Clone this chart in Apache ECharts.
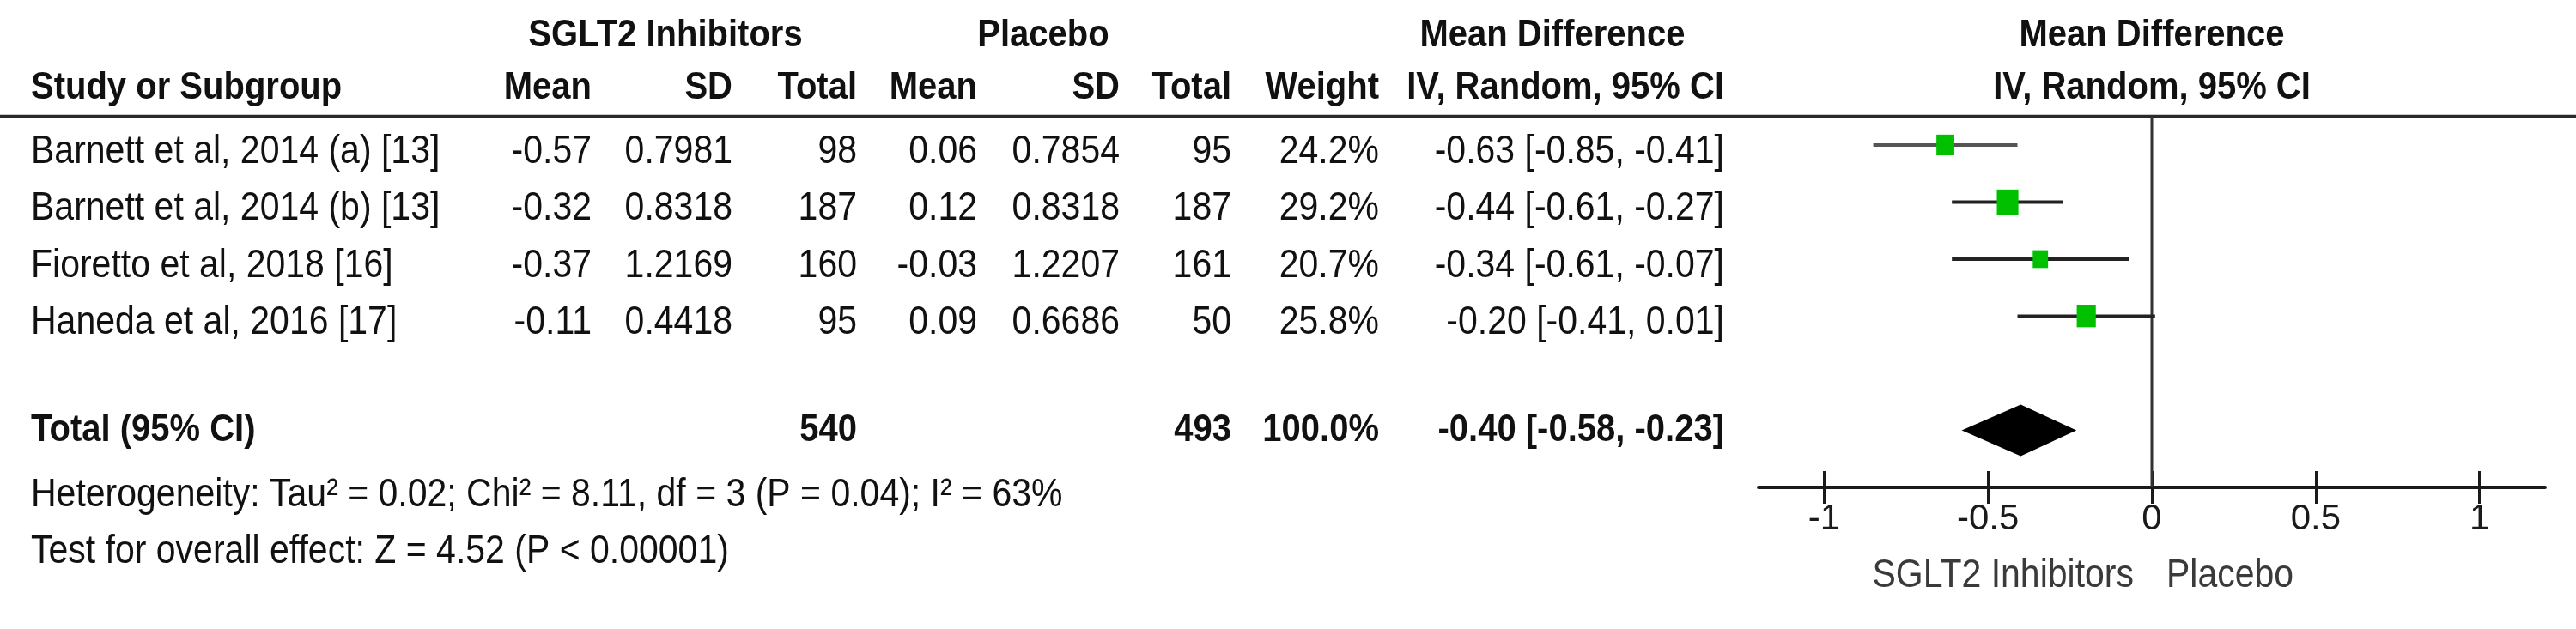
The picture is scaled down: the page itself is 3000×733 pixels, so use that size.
<!DOCTYPE html>
<html><head><meta charset="utf-8">
<script src="https://cdn.jsdelivr.net/npm/echarts@6/dist/echarts.min.js"></script>
<style>html,body{margin:0;padding:0;background:#fff}#c{width:3000px;height:733px}</style>
</head><body><div id="c"></div>
<script>
// ---------- data ----------
const studies = ['Barnett et al, 2014 (a) [13]', 'Barnett et al, 2014 (b) [13]', 'Fioretto et al, 2018 [16]', 'Haneda et al, 2016 [17]'];
const sgltMean = ['-0.57', '-0.32', '-0.37', '-0.11'];
const sgltSD = ['0.7981', '0.8318', '1.2169', '0.4418'];
const sgltTotal = [98, 187, 160, 95];
const placeboMean = ['0.06', '0.12', '-0.03', '0.09'];
const placeboSD = ['0.7854', '0.8318', '1.2207', '0.6686'];
const placeboTotal = [95, 187, 161, 50];
const weights = [24.2, 29.2, 20.7, 25.8];
const meanDiff = [-0.63, -0.44, -0.34, -0.20];
const ciLow = [-0.85, -0.61, -0.61, -0.41];
const ciHigh = [-0.41, -0.27, -0.07, 0.01];
const totalLabel = 'Total (95% CI)';
const totalSglt = 540;
const totalPlacebo = 493;
const totalWeight = '100.0%';
const totalMD = [-0.40, -0.58, -0.23];   // estimate, low, high
const xTicks = [-1, -0.5, 0, 0.5, 1];
const headerGroups = ['SGLT2 Inhibitors', 'Placebo', 'Mean Difference', 'Mean Difference'];
const headerCols = ['Study or Subgroup', 'Mean', 'SD', 'Total', 'Mean', 'SD', 'Total', 'Weight', 'IV, Random, 95% CI', 'IV, Random, 95% CI'];
const heterogeneity = 'Heterogeneity: Tau\u00b2 = 0.02; Chi\u00b2 = 8.11, df = 3 (P = 0.04); I\u00b2 = 63%';
const overallEffect = 'Test for overall effect: Z = 4.52 (P < 0.00001)';
const favours = ['SGLT2 Inhibitors', 'Placebo'];

// ---------- layout ----------
const FONT = '"Liberation Sans", Arial, sans-serif';
const SY = 1.12;
const GRID_H = 568;
const ROW = { h1: -1.92, h2: -1.0, studyText: 0.12, total: 5, totalText: 5.0, het: 6.14, test: 7.13, rule: -0.5, axisTitle: 7.56 };
const COL = {
  study: [36, 'left'], eMean: [689, 'right'], eSD: [853, 'right'], eTot: [998, 'right'],
  pMean: [1138, 'right'], pSD: [1304, 'right'], pTot: [1434, 'right'], wt: [1606, 'right'], md: [2008, 'right']
};
const colKeys = ['study', 'eMean', 'eSD', 'eTot', 'pMean', 'pSD', 'pTot', 'wt', 'md'];
const fmt = v => v.toFixed(2);
const ciText = (m, l, h) => fmt(m) + ' [' + fmt(l) + ', ' + fmt(h) + ']';

const items = [];
function add(text, row, col, bold, opts) {
  items.push(Object.assign({ text: String(text), row, col, bold }, opts || {}));
}
add(headerGroups[0], ROW.h1, null, true, { px: 775, align: 'center' });
add(headerGroups[1], ROW.h1, null, true, { px: 1215, align: 'center' });
add(headerGroups[2], ROW.h1, null, true, { px: 1808, align: 'center' });
add(headerGroups[3], ROW.h1, null, true, { fx: 0, align: 'center' });
colKeys.forEach((k, i) => add(headerCols[i], ROW.h2, k, true));
add(headerCols[9], ROW.h2, null, true, { fx: 0, align: 'center' });
studies.forEach((s, i) => {
  const r = i + ROW.studyText;
  const vals = [s, sgltMean[i], sgltSD[i], sgltTotal[i], placeboMean[i], placeboSD[i], placeboTotal[i],
    weights[i].toFixed(1) + '%', ciText(meanDiff[i], ciLow[i], ciHigh[i])];
  colKeys.forEach((k, j) => add(vals[j], r, k, false));
});
add(totalLabel, ROW.totalText, 'study', true);
add(totalSglt, ROW.totalText, 'eTot', true);
add(totalPlacebo, ROW.totalText, 'pTot', true);
add(totalWeight, ROW.totalText, 'wt', true);
add(ciText(totalMD[0], totalMD[1], totalMD[2]), ROW.totalText, 'md', true);
add(heterogeneity, ROW.het, 'study', false);
add(overallEffect, ROW.test, 'study', false);
add(favours[0], ROW.axisTitle, null, false, { fx: 0, dx: -21, align: 'right', color: '#3a3a3a' });
add(favours[1], ROW.axisTitle, null, false, { fx: 0, dx: 17, align: 'left', color: '#3a3a3a' });

function textEl(x, y, it) {
  return {
    type: 'text', x: x, y: y, scaleY: SY,
    style: {
      text: it.text, x: 0, y: 0, fill: it.color || '#111', fontFamily: FONT,
      fontSize: it.bold ? 40 : 41, fontWeight: it.bold ? 'bold' : 'normal',
      align: it.align, verticalAlign: 'middle'
    }
  };
}

const chart = echarts.init(document.getElementById('c'), null, { renderer: 'canvas' });
const axisCommon = { type: 'value', min: -1.2, max: 1.2, gridIndex: 0, splitLine: { show: false } };
chart.setOption({
  animation: false,
  backgroundColor: '#fff',
  grid: [{ left: 2048, top: 0, width: 916, height: GRID_H }],
  xAxis: [
    Object.assign({}, axisCommon, {
      position: 'bottom',
      axisLine: { show: true, onZero: false, lineStyle: { color: '#1a1a1a', width: 4 } },
      axisTick: { show: true, customValues: xTicks, length: 19, lineStyle: { color: '#1a1a1a', width: 3 } },
      axisLabel: { show: true, customValues: xTicks, margin: 16, fontSize: 42, color: '#1a1a1a', fontFamily: FONT }
    }),
    Object.assign({}, axisCommon, {
      // upper half of the crossing ticks: a top axis moved down onto the bottom line
      position: 'top', offset: -GRID_H,
      axisLine: { show: false, onZero: false },
      axisTick: { show: true, inside: false, customValues: xTicks, length: 19, lineStyle: { color: '#1a1a1a', width: 3 } },
      axisLabel: { show: false }
    })
  ],
  yAxis: [{ type: 'value', min: -2.54, max: 6, inverse: true, show: false, gridIndex: 0 }],
  series: [
    {
      type: 'custom', coordinateSystem: 'cartesian2d', clip: false, silent: true,
      data: [[0, ROW.rule]],
      renderItem: (p, api) => {
        const y = api.coord([0, api.value(1)])[1];
        return { type: 'line', shape: { x1: 0, y1: y, x2: api.getWidth(), y2: y }, style: { stroke: '#2a2a2a', lineWidth: 4 } };
      }
    },
    {
      type: 'custom', coordinateSystem: 'cartesian2d', clip: false, silent: true,
      data: [[0, ROW.rule, 6]],
      renderItem: (p, api) => {
        const a = api.coord([api.value(0), api.value(1)]);
        const b = api.coord([api.value(0), api.value(2)]);
        return { type: 'line', shape: { x1: a[0], y1: a[1], x2: b[0], y2: b[1] }, style: { stroke: '#333', lineWidth: 3 } };
      }
    },
    {
      type: 'custom', coordinateSystem: 'cartesian2d', clip: false, silent: true,
      data: ciLow.map((l, i) => [l, ciHigh[i], i]),
      renderItem: (p, api) => {
        const a = api.coord([api.value(0), api.value(2)]);
        const b = api.coord([api.value(1), api.value(2)]);
        return { type: 'line', shape: { x1: a[0], y1: a[1], x2: b[0], y2: b[1] }, style: { stroke: p.dataIndex === 0 ? '#555' : '#222', lineWidth: 4 } };
      }
    },
    {
      type: 'scatter', symbol: 'rect', silent: true, z: 5,
      data: meanDiff.map((m, i) => [m, i, weights[i]]),
      symbolSize: v => [v[2] * 0.86, v[2] * 1.0],
      itemStyle: { color: '#00c000', opacity: 1 }
    },
    {
      type: 'custom', coordinateSystem: 'cartesian2d', clip: false, silent: true,
      data: [[totalMD[0], totalMD[1], totalMD[2], ROW.total]],
      renderItem: (p, api) => {
        const r = api.value(3);
        const pts = [
          api.coord([api.value(1), r]), api.coord([api.value(0), r - 0.45]),
          api.coord([api.value(2), r]), api.coord([api.value(0), r + 0.45])
        ];
        return { type: 'polygon', shape: { points: pts }, style: { fill: '#000' } };
      }
    },
    {
      type: 'custom', coordinateSystem: 'cartesian2d', clip: false, silent: true, z: 10,
      data: items.map(it => [it.fx !== undefined ? it.fx : 0, it.row]),
      renderItem: (p, api) => {
        const it = items[p.dataIndex];
        const pt = api.coord([api.value(0), api.value(1)]);
        let x, align;
        if (it.fx !== undefined) { x = pt[0] + (it.dx || 0); align = it.align; }
        else if (it.col) { x = COL[it.col][0]; align = COL[it.col][1]; }
        else { x = it.px; align = it.align; }
        return textEl(x, pt[1], Object.assign({}, it, { align }));
      }
    }
  ]
});
</script>
</body></html>
